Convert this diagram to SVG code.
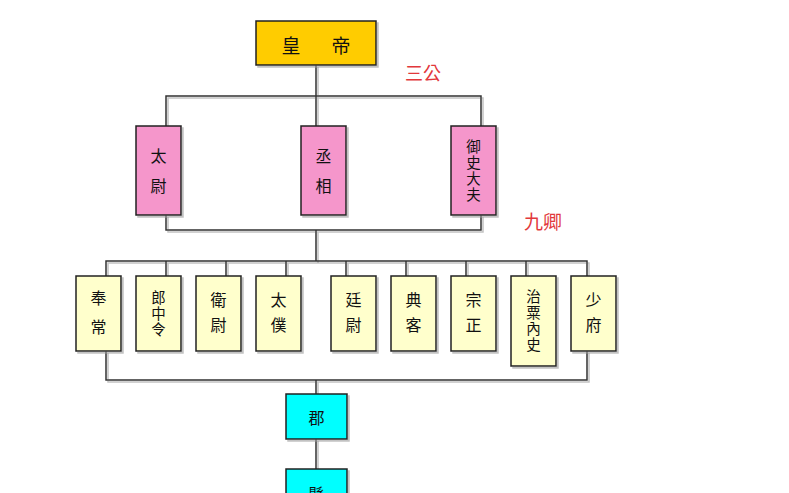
<svg xmlns="http://www.w3.org/2000/svg" width="789" height="493" viewBox="0 0 789 493">
  <defs>
    <filter id="sh" filterUnits="userSpaceOnUse" x="0" y="0" width="789" height="520">
      <feDropShadow dx="2" dy="2" stdDeviation="0.6" flood-color="#9a9a9a" flood-opacity="0.6"/>
    </filter>
  </defs>
  <style>
    .box { stroke: #222; stroke-width: 1.5; filter: url(#sh); }
    .emp { fill: #FFCC00; }
    .gong { fill: #F596CB; }
    .qing { fill: #FFFFCC; }
    .jun { fill: #00FFFF; }
    .t { font-family: "Noto Sans CJK TC", "Noto Sans CJK SC", sans-serif; font-size: 16px; fill: #111; text-anchor: middle; dominant-baseline: central; }
    .v { writing-mode: vertical-rl; }
    .s { font-size: 14.5px; letter-spacing: 1.5px; }
    .w25 { letter-spacing: 9px; }
    .w30 { letter-spacing: 14px; }
    .big { font-size: 19px; }
    .red { font-family: "Noto Sans CJK TC", "Noto Sans CJK SC", sans-serif; fill: #E2383C; text-anchor: middle; dominant-baseline: central; }
    .ln { stroke: #333; stroke-width: 1.5; fill: none; filter: url(#sh); }
  </style>
  <rect width="789" height="493" fill="#ffffff"/>

  <g id="connectors">
    <path class="ln" d="M316,65 V96 M166,126 V96 H481 V126 M316,96 V126"/>
    <path class="ln" d="M166,215 V230 H481 V215 M316,230 V261"/>
    <path class="ln" d="M106,276 V261 H587 V276 M166,261 V276 M226,261 V276 M286,261 V276 M346,261 V276 M406,261 V276 M466,261 V276 M526,261 V276"/>
    <path class="ln" d="M106,351 V380 H587 V351 M316,380 V394"/>
    <path class="ln" d="M316,439 V469"/>
  </g>

  <g id="label-sangong">
    <text class="red" x="423" y="72" font-size="18">三公</text>
  </g>
  <g id="label-jiuqing">
    <text class="red" x="543" y="220" font-size="19">九卿</text>
  </g>

  <g id="emperor">
    <rect class="box emp" x="256" y="21" width="120" height="44"/>
    <text class="t big" y="44"><tspan x="291">皇</tspan><tspan x="341">帝</tspan></text>
  </g>

  <g id="taiwei">
    <rect class="box gong" x="136" y="126" width="45" height="89"/>
    <text class="t v w30" x="158.5" y="178">太尉</text>
  </g>
  <g id="chengxiang">
    <rect class="box gong" x="301" y="126" width="45" height="89"/>
    <text class="t v w30" x="323.5" y="178">丞相</text>
  </g>
  <g id="yushidafu">
    <rect class="box gong" x="451" y="126" width="45" height="89"/>
    <text class="t v s" x="473.5" y="171.3">御史大夫</text>
  </g>

  <g id="fengchang">
    <rect class="box qing" x="76" y="276" width="45" height="75"/>
    <text class="t v" x="98.5" y="319" style="letter-spacing:13px">奉常</text>
  </g>
  <g id="langzhongling">
    <rect class="box qing" x="136" y="276" width="45" height="75"/>
    <text class="t v s" x="158.5" y="313.8">郎中令</text>
  </g>
  <g id="weiwei">
    <rect class="box qing" x="196" y="276" width="45" height="75"/>
    <text class="t v w25" x="218.5" y="317">衛尉</text>
  </g>
  <g id="taipu">
    <rect class="box qing" x="256" y="276" width="45" height="75"/>
    <text class="t v w25" x="278.5" y="317">太僕</text>
  </g>
  <g id="tingwei">
    <rect class="box qing" x="331" y="276" width="45" height="75"/>
    <text class="t v w25" x="353.5" y="317">廷尉</text>
  </g>
  <g id="dianke">
    <rect class="box qing" x="391" y="276" width="45" height="75"/>
    <text class="t v w25" x="413.5" y="317">典客</text>
  </g>
  <g id="zongzheng">
    <rect class="box qing" x="451" y="276" width="45" height="75"/>
    <text class="t v w25" x="473.5" y="317">宗正</text>
  </g>
  <g id="zhisuneishi">
    <rect class="box qing" x="511" y="276" width="45" height="90"/>
    <text class="t v s" x="533.5" y="320.8">治粟內史</text>
  </g>
  <g id="shaofu">
    <rect class="box qing" x="571" y="276" width="45" height="75"/>
    <text class="t v w25" x="593.5" y="317">少府</text>
  </g>

  <g id="jun">
    <rect class="box jun" x="286" y="394" width="61" height="45"/>
    <text class="t" x="316.5" y="417">郡</text>
  </g>
  <g id="xian">
    <rect class="box jun" x="286" y="469" width="61" height="45"/>
    <text class="t" x="316.5" y="493">縣</text>
  </g>
</svg>
